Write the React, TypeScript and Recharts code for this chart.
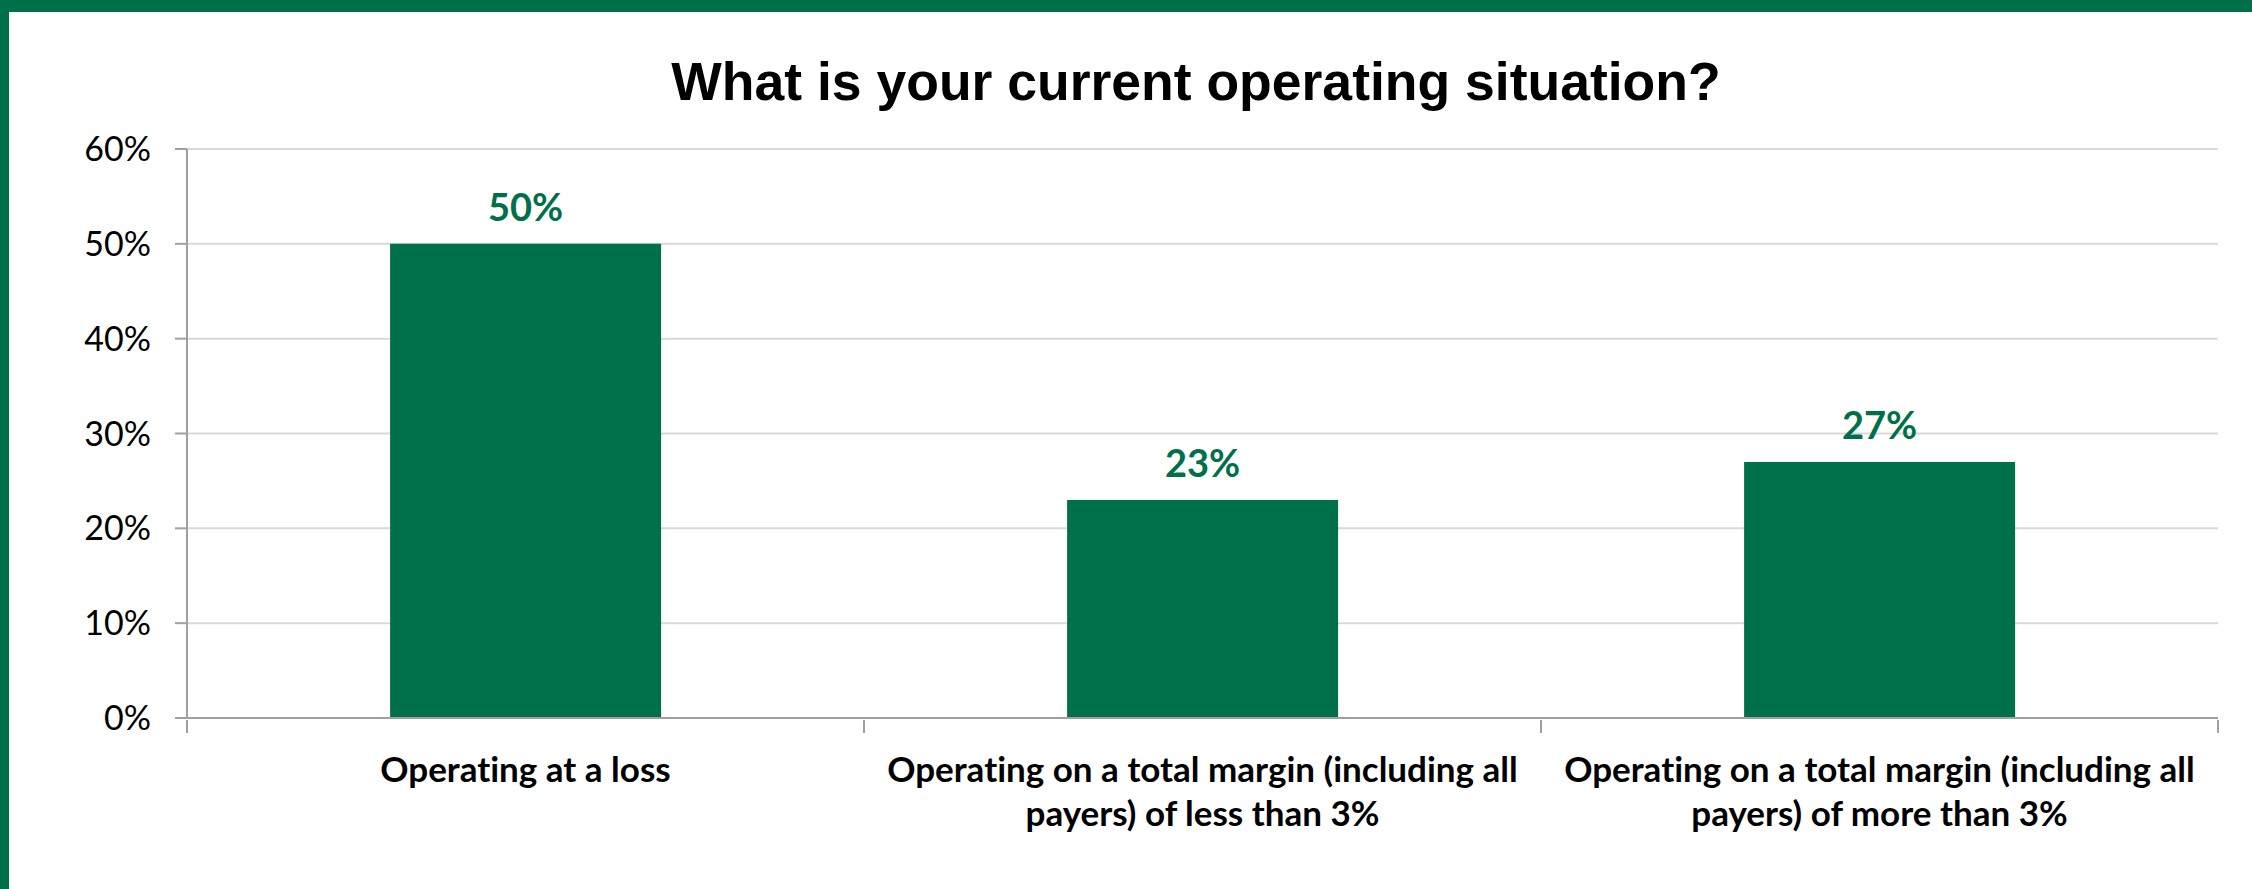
import { BarChart, Bar, XAxis, YAxis, CartesianGrid, LabelList } from "recharts";

const categories = [
  "Operating at a loss",
  "Operating on a total margin (including all payers) of less than 3%",
  "Operating on a total margin (including all payers) of more than 3%",
];
const shares = [0.5, 0.23, 0.27];
const yTicks = [0, 0.1, 0.2, 0.3, 0.4, 0.5, 0.6];

const data = categories.map((name, i) => ({ name, value: shares[i] }));

const GREEN = "#00704A";
const AXIS = "#A0A0A0";
const GRID = "#D9D9D9";
const BODY_FONT = "Lato, 'Noto Sans', sans-serif";

const pct = (v: number) => `${Math.round(v * 100)}%`;

function wrap(label: string, maxChars: number) {
  const lines: string[] = [];
  let cur = "";
  for (const w of label.split(" ")) {
    const next = cur ? `${cur} ${w}` : w;
    if (next.length > maxChars && cur) {
      lines.push(cur);
      cur = w;
    } else {
      cur = next;
    }
  }
  if (cur) lines.push(cur);
  return lines;
}

// category label plus the tick marks on the band edges (Excel style)
function CategoryTick(props: any) {
  const { x, y, payload, index, visibleTicksCount } = props;
  const half = payload.offset || 0;
  const lines = wrap(String(payload.value), 45);
  const last = index === (visibleTicksCount ?? categories.length) - 1;
  return (
    <g>
      {half > 0 && <line x1={x - half} x2={x - half} y1={y} y2={y + 13} stroke={AXIS} strokeWidth={2} />}
      {half > 0 && last && <line x1={x + half} x2={x + half} y1={y} y2={y + 13} stroke={AXIS} strokeWidth={2} />}
      <text
        x={x}
        y={y + 62}
        textAnchor="middle"
        fill="#000"
        fontFamily={BODY_FONT}
        fontWeight={700}
        fontSize={35}
        style={{ fontVariantLigatures: "none" }}
      >
        {lines.map((line, i) => (
          <tspan key={i} x={x} dy={i === 0 ? 0 : 44}>
            {line}
          </tspan>
        ))}
      </text>
    </g>
  );
}

export default function App() {
  return (
    <div
      style={{
        position: "relative",
        width: 2252,
        height: 889,
        background: "#fff",
        boxSizing: "border-box",
        borderTop: `12px solid ${GREEN}`,
        borderLeft: `9px solid ${GREEN}`,
      }}
    >
      <style>{`body{margin:0}`}</style>
      <div
        style={{
          position: "absolute",
          left: 187,
          top: 43,
          width: 2000,
          textAlign: "center",
          fontFamily: "'Liberation Sans', Arial, sans-serif",
          fontWeight: 700,
          fontSize: 53.5,
          lineHeight: "53px",
          color: "#000",
          zIndex: 2,
        }}
      >
        What is your current operating situation?
      </div>
      <div style={{ position: "absolute", left: -9, top: -12 }}>
        <BarChart
          width={2252}
          height={889}
          data={data}
          margin={{ top: 149, right: 34, bottom: 0, left: 0 }}
          barCategoryGap="30%"
        >
          <CartesianGrid vertical={false} stroke={GRID} strokeWidth={2} />
          <XAxis
            dataKey="name"
            height={171}
            axisLine={{ stroke: AXIS, strokeWidth: 2 }}
            tickLine={false}
            tickSize={0}
            interval={0}
            tick={<CategoryTick />}
          />
          <YAxis
            width={187}
            domain={[0, 0.6]}
            ticks={yTicks}
            tickFormatter={pct}
            axisLine={{ stroke: AXIS, strokeWidth: 2 }}
            tickLine={{ stroke: AXIS, strokeWidth: 2 }}
            tickSize={12}
            tickMargin={24}
            tick={{ fill: "#000", fontFamily: BODY_FONT, fontSize: 34 }}
          />
          <Bar dataKey="value" fill={GREEN} isAnimationActive={false}>
            <LabelList
              dataKey="value"
              position="top"
              offset={23}
              formatter={(v: any) => pct(Number(v))}
              fill={GREEN}
              fontFamily={BODY_FONT}
              fontWeight={700}
              fontSize={38}
            />
          </Bar>
        </BarChart>
      </div>
    </div>
  );
}
